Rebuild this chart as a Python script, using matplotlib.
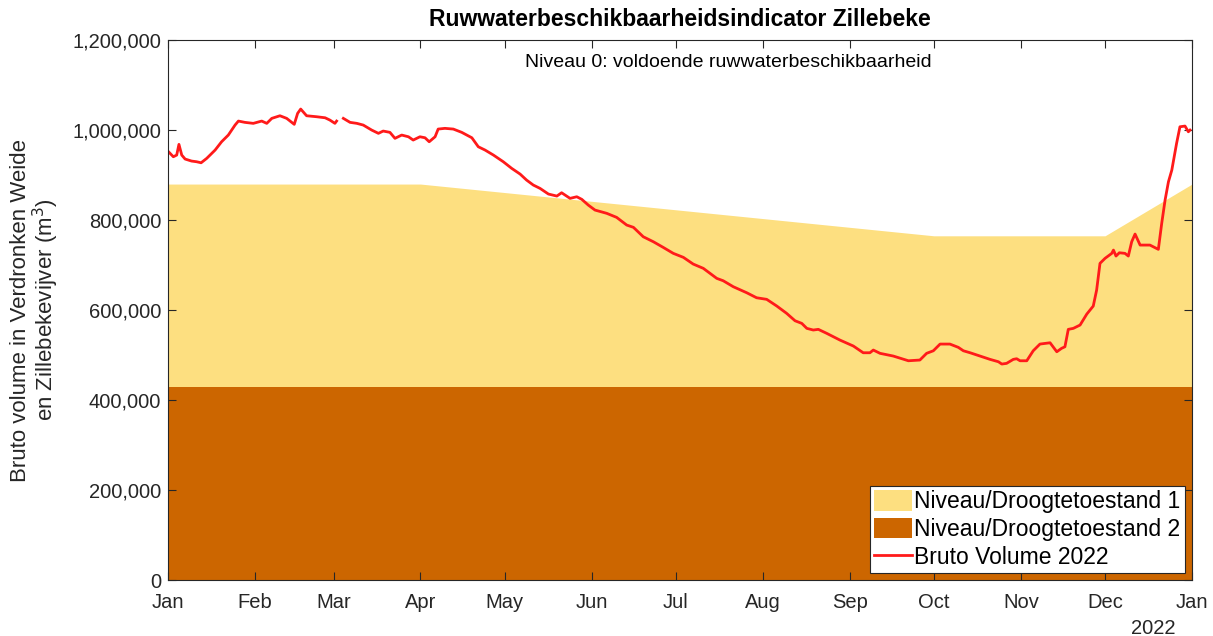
import numpy as np
import pandas as pd
import matplotlib
matplotlib.use("Agg")
import matplotlib.pyplot as plt
from matplotlib.patches import Patch
from matplotlib.lines import Line2D
from matplotlib.ticker import FuncFormatter

plt.rcParams["font.family"] = ["Liberation Sans", "DejaVu Sans"]

start = pd.Timestamp("2022-01-01")

# bruto volume 2022 (day offset from 1 Jan, m3); NaN = missing data
vol_days = [0, 1.9, 3.1, 3.9, 4.9, 6.1, 8.4, 10.2, 11.8, 13.8, 16.8, 19.1, 21.5, 23.9, 25.1,
            27.4, 30.4, 33.4, 35.2, 37.0, 39.9, 42.3, 45.0, 46.2, 47.3, 49.4, 53.0, 56.0,
            57.7, 59.5, 60.1, 61.3, 62.5, 64.9, 67.3, 69.6, 72.6, 75.0, 76.7, 79.1, 80.9,
            83.3, 85.7, 87.4, 89.8, 91.6, 93.1, 95.2, 96.3, 98.7, 101.7, 104.7, 108.3,
            110.6, 113.0, 116.0, 119.5, 122.5, 125.5, 127.8, 130.2, 132.6, 135.6, 138.6,
            140.3, 143.3, 145.7, 147.5, 149.8, 152.2, 156.4, 159.9, 163.5, 165.9, 169.4,
            173.0, 176.5, 180.1, 183.7, 187.2, 190.8, 193.2, 195.6, 197.9, 201.5, 206.3,
            209.8, 213.4, 217.0, 220.5, 223.5, 225.9, 227.7, 230.0, 231.8, 234.8, 239.5,
            244.3, 247.8, 250.2, 251.4, 253.8, 258.5, 263.9, 268.0, 270.4, 272.8, 275.2,
            278.7, 281.7, 283.5, 285.9, 289.4, 293.0, 296.0, 297.2, 298.9, 301.3, 302.5,
            303.7, 306.1, 308.4, 310.8, 314.4, 316.8, 318.5, 319.7, 320.9, 322.7, 325.1,
            327.5, 329.8, 331.0, 332.2, 334.0, 336.4, 337.0, 337.9, 339.1, 341.1, 342.3,
            343.5, 344.7, 346.5, 350.0, 353.0, 354.2, 355.4, 356.6, 357.8, 359.5, 360.7,
            362.5, 363.7, 364.3]
vol = [953000, 940700, 944400, 968200, 944400, 935600, 931100, 929600, 927300, 937100,
       955600, 974000, 988900, 1011100, 1020000, 1017100, 1014900, 1020000, 1014900,
       1026000, 1031800, 1026000, 1012700, 1037100, 1046700, 1031800, 1029600, 1027300,
       1022200, 1014900, 1020000, np.nan, 1026000, 1017100, 1014900, 1011100, 1000000,
       992700, 997800, 994900, 981600, 988900, 985100, 977800, 985100, 982900, 974000,
       985100, 1002200, 1003800, 1002200, 994900, 982900, 962900, 955600, 944400, 929600,
       914900, 902200, 888900, 877800, 870400, 857800, 853300, 860700, 848200, 851800,
       846000, 833300, 822200, 814900, 806000, 788900, 783800, 762900, 751800, 739300,
       726000, 717100, 702200, 692700, 681600, 670400, 665100, 651800, 638400, 627300,
       623800, 608900, 592700, 576200, 570400, 559300, 555600, 557100, 548200, 533300,
       520000, 505100, 505100, 511100, 503800, 497800, 487300, 488900, 503800, 509500,
       524400, 524400, 517100, 509500, 505100, 497800, 490400, 485100, 480000, 481500,
       490400, 491800, 487300, 487300, 509500, 524400, 527300, 507300, 514900, 518400,
       557100, 559300, 566700, 591100, 608900, 644400, 703800, 714900, 726000, 733300,
       720000, 727300, 726000, 720000, 751800, 768900, 744400, 744400, 734900, 792700,
       844400, 885100, 911100, 970400, 1007300, 1008900, 996200, 1000000]

# drought thresholds
niv1_dates = ["2022-01-01", "2022-04-01", "2022-10-01", "2022-12-01", "2023-01-01"]
niv1 = [880000, 880000, 765000, 765000, 880000]
niv2_dates = ["2022-01-01", "2023-01-01"]
niv2 = [430000, 430000]

months = ["Jan", "Feb", "Mar", "Apr", "May", "Jun", "Jul", "Aug", "Sep", "Oct", "Nov", "Dec", "Jan"]

vol_x = start + pd.to_timedelta(vol_days, unit="D")
n1_x = pd.to_datetime(niv1_dates)
n2_x = pd.to_datetime(niv2_dates)

fig = plt.figure(figsize=(12.13, 6.36), dpi=100)
ax = fig.add_axes([0.1385, 0.088, 0.8442, 0.849])

c1 = "#fddf80"
c2 = "#cc6600"
ax.fill_between(n1_x, 0, niv1, color=c1, lw=0)
ax.fill_between(n2_x, 0, niv2, color=c2, lw=0)
ax.plot(vol_x, vol, color="#ff1a1a", lw=2)

ax.set_xlim(pd.Timestamp("2022-01-01"), pd.Timestamp("2023-01-01"))
ax.set_ylim(0, 1200000)
ticks = pd.date_range("2022-01-01", "2023-01-01", freq="MS")
ax.set_xticks(ticks)
ax.set_xticklabels(months)
ax.set_yticks(np.arange(0, 1200001, 200000))
ax.yaxis.set_major_formatter(FuncFormatter(lambda v, p: f"{int(v):,}"))
ax.tick_params(direction="in", length=6, width=0.8, colors="#262626",
               labelsize=14.5, top=True, right=True, pad=5)
ax.tick_params(axis="x", pad=9)
for s in ax.spines.values():
    s.set_color("#262626")
    s.set_linewidth(0.8)

ax.set_title("Ruwwaterbeschikbaarheidsindicator Zillebeke", fontsize=16.5,
             fontweight="bold", pad=10)
ax.text(0.547, 0.975, "Niveau 0: voldoende ruwwaterbeschikbaarheid", transform=ax.transAxes,
        ha="center", va="top", fontsize=14)
ax.set_ylabel("Bruto volume in Verdronken Weide\nen Zillebekevijver (m$^3$)",
              fontsize=16, labelpad=8, color="#262626", linespacing=1.0)
ax.annotate("2022", xy=(0.962, -0.072), xycoords="axes fraction", ha="center",
            va="top", fontsize=14.5, color="#262626")

handles = [Patch(facecolor=c1, edgecolor="none", label="Niveau/Droogtetoestand 1"),
           Patch(facecolor=c2, edgecolor="none", label="Niveau/Droogtetoestand 2"),
           Line2D([0], [0], color="#ff1a1a", lw=2, label="Bruto Volume 2022")]
leg = ax.legend(handles=handles, loc="lower right", fontsize=16.5, fancybox=False,
                framealpha=1, edgecolor="#262626", borderpad=0.2, handlelength=1.65,
                handleheight=1.0, handletextpad=0.1, labelspacing=0.2,
                borderaxespad=0.3)
leg.get_frame().set_linewidth(0.8)

fig.savefig("out.png", dpi=100)
